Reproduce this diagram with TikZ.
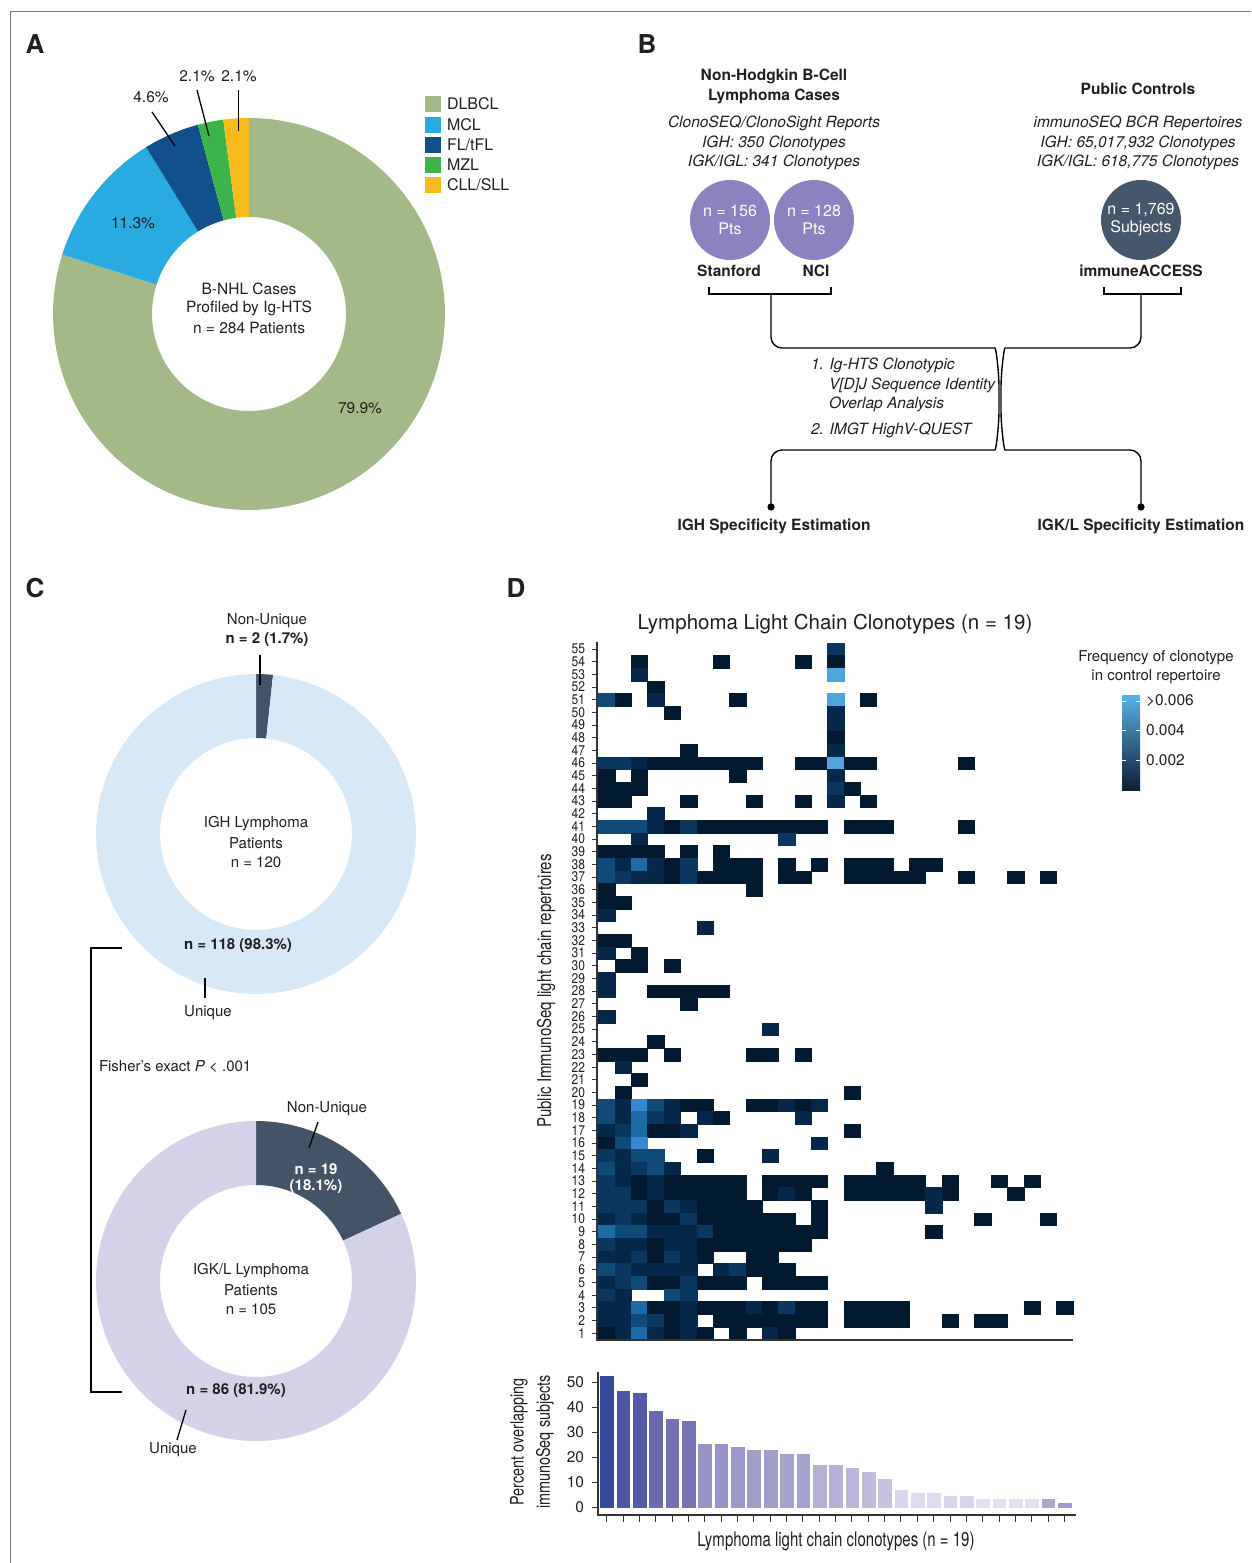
\documentclass[tikz,border=0pt]{standalone}
\usepackage{fontspec}
\setmainfont{TeX Gyre Heros}
\usepackage{graphicx}
\definecolor{cDLBCL}{HTML}{A3B987}
\definecolor{cMCL}{HTML}{29AAE1}
\definecolor{cFL}{HTML}{11508A}
\definecolor{cMZL}{HTML}{3BB54A}
\definecolor{cCLL}{HTML}{F6BC1B}
\definecolor{cIGH}{HTML}{D7E9F7}
\definecolor{cIGK}{HTML}{D4D2E8}
\definecolor{cSlate}{HTML}{425466}
\definecolor{cPurp}{HTML}{8B83BF}
\definecolor{cCtrl}{HTML}{45586B}
\definecolor{hm0}{HTML}{021A30}
\definecolor{hm1}{HTML}{05274A}
\definecolor{hm2}{HTML}{0A3660}
\definecolor{hm3}{HTML}{0F4A78}
\definecolor{hm4}{HTML}{1D6AA6}
\definecolor{hm5}{HTML}{3689CF}
\definecolor{hm6}{HTML}{4FA6DF}
\definecolor{cbTop}{HTML}{5AB0E6}
\definecolor{cbBot}{HTML}{0A1F35}
\definecolor{axisgray}{HTML}{333333}
\definecolor{framegray}{HTML}{7A7A7A}
\definecolor{txt}{HTML}{231F20}
\newcommand{\myfs}[1]{\fontsize{#1}{#1}\selectfont}
\newcommand{\condtxt}[1]{\scalebox{0.78}[1]{#1}}
\newcommand{\donutseg}[7]{%
  \fill[#7] plot[domain=#5:#6, samples=90] ({#1+#4*cos(\x)},{#2+#4*sin(\x)})
    -- plot[domain=#6:#5, samples=90] ({#1+#3*cos(\x)},{#2+#3*sin(\x)}) -- cycle;}
\begin{document}
\begin{tikzpicture}[x=1pt,y=-1pt,
  every node/.style={inner sep=0pt, outer sep=0pt, text=txt},
  lbl/.style={font=\myfs{15.5}},
  blbl/.style={font=\myfs{15.5}\bfseries},
  ilbl/.style={font=\myfs{15.5}\itshape},
  panel/.style={font=\myfs{26}\bfseries},
  leader/.style={draw=black, line width=1.3pt},
  axisline/.style={draw=axisgray, line width=1.4pt},
  tick/.style={draw=axisgray, line width=1pt}]
\useasboundingbox (0,0) rectangle (1251,1563);
\fill[white] (0,0) rectangle (1251,1563);
% frame
\draw[framegray, line width=1pt] (10,1563) -- (10,12) -- (1251,12);

% ---------------- Panel A ----------------
\node[panel] (pA) at (35,44) {A};
\donutseg{249}{314}{97}{196}{-90}{197.64}{cDLBCL}
\donutseg{249}{314}{97}{196}{197.64}{238.32}{cMCL}
\donutseg{249}{314}{97}{196}{238.32}{254.88}{cFL}
\donutseg{249}{314}{97}{196}{254.88}{262.44}{cMZL}
\donutseg{249}{314}{97}{196}{262.44}{270}{cCLL}
\node[lbl] (aC1) at (249,289) {B-NHL Cases};
\node[lbl] (aC2) at (249,308) {Profiled by Ig-HTS};
\node[lbl] (aC3) at (249,328) {n = 284 Patients};
\node[lbl] (aP1) at (360,408) {79.9\%};
\node[lbl] (aP2) at (133,223) {11.3\%};
\node[lbl] (aP3) at (151,97) {4.6\%};
\node[lbl] (aP4) at (197,76) {2.1\%};
\node[lbl] (aP5) at (239,76) {2.1\%};
\draw[leader] (152,112) -- (175,146);
\draw[leader] (197,90) -- (209,136);
\draw[leader] (238.5,90) -- (238.5,131);
% legend
\foreach \ly/\lc in {104/cDLBCL,125/cMCL,145/cFL,165/cMZL,185/cCLL}{
  \fill[\lc] (425,{\ly-8}) rectangle (441,{\ly+8});
}
\node[lbl, anchor=west, font=\myfs{16}] (lg1) at (447,104) {DLBCL};
\node[lbl, anchor=west, font=\myfs{16}] (lg2) at (447,125) {MCL};
\node[lbl, anchor=west, font=\myfs{16}] (lg3) at (447,145) {FL/tFL};
\node[lbl, anchor=west, font=\myfs{16}] (lg4) at (447,165) {MZL};
\node[lbl, anchor=west, font=\myfs{16}] (lg5) at (447,185) {CLL/SLL};

% ---------------- Panel B ----------------
\node[panel] (pB) at (647,44) {B};
\node[blbl] (bH1) at (774,76) {Non-Hodgkin B-Cell};
\node[blbl] (bH2) at (774,96) {Lymphoma Cases};
\node[blbl] (bH3) at (1138,89) {Public Controls};
\node[ilbl] (bI1) at (774,123) {ClonoSEQ/ClonoSight Reports};
\node[ilbl] (bI2) at (774,143) {IGH: 350 Clonotypes};
\node[ilbl] (bI3) at (774,162) {IGK/IGL: 341 Clonotypes};
\node[ilbl] (bI4) at (1138,123) {immunoSEQ BCR Repertoires};
\node[ilbl] (bI5) at (1138,143) {IGH: 65,017,932 Clonotypes};
\node[ilbl] (bI6) at (1138,162) {IGK/IGL: 618,775 Clonotypes};
\node[circle, fill=cPurp, minimum size=80pt, align=center, text=white, font=\myfs{16}] (cSt) at (730,220) {n = 156\\[2pt]Pts};
\node[circle, fill=cPurp, minimum size=80pt, align=center, text=white, font=\myfs{16}] (cNCI) at (814,220) {n = 128\\[2pt]Pts};
\node[circle, fill=cCtrl, minimum size=80pt, align=center, text=white, font=\myfs{16}] (cCt) at (1141,220) {n = 1,769\\[2pt]Subjects};
\node[blbl] (bSt) at (729,271) {Stanford};
\node[blbl] (bNCI) at (816,271) {NCI};
\node[blbl] (bIA) at (1141,271) {immuneACCESS};
\coordinate (lbS) at (771,294);
\coordinate (rbS) at (1141,294);
\draw[line width=1.2pt] (709,287) -- (709,294) -- (831,294) -- (831,287);
\draw[line width=1.2pt] (1104,287) -- (1104,294) -- (1181,294) -- (1181,287);
\coordinate (dotL) at (771,507);
\coordinate (dotR) at (1141,507);
\draw[line width=1.4pt, rounded corners=11pt] (lbS) -- (771,348) -- (984,348)
  .. controls (996,348) and (999,372) .. (999,399)
  .. controls (999,426) and (996,450) .. (984,450) -- (771,450) -- (dotL);
\draw[line width=1.4pt, rounded corners=11pt] (rbS) -- (1141,348) -- (1016,348)
  .. controls (1004,348) and (1001,372) .. (1001,399)
  .. controls (1001,426) and (1004,450) .. (1016,450) -- (1141,450) -- (dotR);
\fill (dotL) circle (3.6pt);
\fill (dotR) circle (3.6pt);
\node[ilbl, anchor=west] (bM1) at (811,365) {1. Ig-HTS Clonotypic};
\node[ilbl, anchor=west] (bM2) at (829,385) {V[D]J Sequence Identity};
\node[ilbl, anchor=west] (bM3) at (829,404) {Overlap Analysis};
\node[ilbl, anchor=west] (bM4) at (811,430) {2. IMGT HighV-QUEST};
\node[blbl] (bO1) at (774,526) {IGH Specificity Estimation};
\node[blbl] (bO2) at (1141,526) {IGK/L Specificity Estimation};

% ---------------- Panel C ----------------
\node[panel] (pC) at (35,588) {C};
\donutseg{256}{834}{96}{160}{-90}{-83.88}{cSlate}
\donutseg{256}{834}{96}{160}{-83.88}{270}{cIGH}
\node[lbl, font=\myfs{15}] (cN1) at (267,621) {Non-Unique};
\node[blbl, font=\myfs{15}\bfseries] (cN2) at (267,640) {n = 2 (1.7\%)};
\draw[leader] (260,655) -- (260,685);
\node[lbl, font=\myfs{15}] (cG1) at (256,824) {IGH Lymphoma};
\node[lbl, font=\myfs{15}] (cG2) at (256,843) {Patients};
\node[lbl, font=\myfs{15}] (cG3) at (256,862) {n = 120};
\node[blbl, font=\myfs{15}\bfseries] (cU1) at (238,946) {n = 118 (98.3\%)};
\draw[leader] (205,978) -- (205,998);
\node[lbl, font=\myfs{15}] (cU2) at (208,1013) {Unique};
\draw[line width=1.3pt] (122,948) -- (91,948) -- (91,1392) -- (122,1392);
\node[lbl, font=\myfs{15}, anchor=west] (cF) at (99,1067) {Fisher's exact \textit{P} < .001};
\donutseg{256}{1281}{96}{160}{-90}{-24.84}{cSlate}
\donutseg{256}{1281}{96}{160}{-24.84}{270}{cIGK}
\node[lbl, font=\myfs{15}] (cK1) at (327,1109) {Non-Unique};
\draw[leader] (318,1122) -- (309,1148);
\node[blbl, font=\myfs{15}\bfseries, text=white] (cK2) at (316,1169) {n = 19};
\node[blbl, font=\myfs{15}\bfseries, text=white] (cK3) at (316,1187) {(18.1\%)};
\node[lbl, font=\myfs{15}] (cK4) at (251,1271) {IGK/L Lymphoma};
\node[lbl, font=\myfs{15}] (cK5) at (251,1290) {Patients};
\node[lbl, font=\myfs{15}] (cK6) at (251,1309) {n = 105};
\node[blbl, font=\myfs{15}\bfseries] (cK7) at (236,1391) {n = 86 (81.9\%)};
\draw[leader] (186,1410) -- (177,1440);
\node[lbl, font=\myfs{15}] (cK8) at (173,1450) {Unique};

% ---------------- Panel D ----------------
\node[panel] (pD) at (516,588) {D};
\node[lbl, font=\myfs{20.5}] (dT) at (835,624) {Lymphoma Light Chain Clonotypes (n = 19)};
% heatmap cells: row/startcol/endcol/shade
\foreach \hr/\ha/\hb/\hs in {
55/14/14/2,
54/2/2/0, 54/7/7/0, 54/12/12/0, 54/14/14/0,
53/2/2/1, 53/14/14/6,
52/3/3/0,
51/0/0/3, 51/1/1/0, 51/3/3/1, 51/8/8/0, 51/14/14/6, 51/16/16/0,
50/4/4/0, 50/14/14/1,
49/14/14/1,
48/14/14/0,
47/5/5/0, 47/14/14/1,
46/0/1/2, 46/2/2/1, 46/3/9/0, 46/12/13/0, 46/14/14/6, 46/15/16/0, 46/22/22/0,
45/0/0/0, 45/2/2/0, 45/8/8/0, 45/14/14/1,
44/0/2/0, 44/14/14/2, 44/15/15/0,
43/0/1/0, 43/5/5/0, 43/9/9/0, 43/12/12/0, 43/14/14/1, 43/16/16/0,
42/3/3/1,
41/0/2/3, 41/3/3/1, 41/4/4/0, 41/5/5/2, 41/6/13/0, 41/15/17/0, 41/22/22/0,
40/2/2/1, 40/11/11/2,
39/0/3/0, 39/5/5/0, 39/7/7/0,
38/0/0/3, 38/1/1/1, 38/2/2/4, 38/3/3/1, 38/4/4/0, 38/5/5/2, 38/7/9/0, 38/11/11/0, 38/13/13/0, 38/15/17/0, 38/19/20/0,
37/0/0/3, 37/1/1/2, 37/2/3/1, 37/4/4/0, 37/5/5/2, 37/6/9/0, 37/11/12/0, 37/15/19/0, 37/22/22/0, 37/25/25/0, 37/27/27/0,
36/0/0/0, 36/9/9/0,
35/0/1/0,
34/0/0/1,
33/6/6/1,
32/0/1/0,
31/0/0/1, 31/2/2/0,
30/1/2/0, 30/4/4/0,
29/0/0/1,
28/0/0/1, 28/3/7/0,
27/5/5/0,
26/0/0/1,
25/10/10/1,
24/3/3/0,
23/0/2/0, 23/4/4/0, 23/9/10/0, 23/12/12/0,
22/1/1/1,
21/2/2/0,
20/1/1/0, 20/15/15/0,
19/0/0/3, 19/1/1/1, 19/2/2/5, 19/3/3/3, 19/4/4/1, 19/5/6/0, 19/9/10/0, 19/11/11/1, 19/12/12/0, 19/13/13/1,
18/0/0/3, 18/1/1/1, 18/2/2/4, 18/3/3/2, 18/4/4/1, 18/6/6/1, 18/7/7/0, 18/12/12/1,
17/0/0/1, 17/1/1/2, 17/2/2/4, 17/3/4/0, 17/5/5/1, 17/15/15/0,
16/0/0/0, 16/1/1/3, 16/2/2/5, 16/13/13/1,
15/0/0/2, 15/1/1/1, 15/2/3/3, 15/6/6/0, 15/10/10/1,
14/0/0/3, 14/1/1/1, 14/2/2/2, 14/3/3/3, 14/4/4/1, 14/17/17/0,
13/0/0/2, 13/1/1/1, 13/2/2/0, 13/3/3/1, 13/4/8/0, 13/10/13/0, 13/15/19/0, 13/21/21/0, 13/24/24/0, 13/26/26/0,
12/0/1/2, 12/2/2/0, 12/3/3/1, 12/4/8/0, 12/10/10/0, 12/11/11/1, 12/12/12/0, 12/15/19/0, 12/20/20/1, 12/21/21/0, 12/25/25/0,
11/0/2/2, 11/3/3/0, 11/4/4/2, 11/5/5/1, 11/6/9/0, 11/13/13/0, 11/20/20/1,
10/0/0/1, 10/1/1/2, 10/2/2/1, 10/3/4/0, 10/5/5/2, 10/6/11/0, 10/13/13/0, 10/23/23/0, 10/27/27/0,
9/0/0/4, 9/1/2/3, 9/3/5/1, 9/6/6/2, 9/7/13/0, 9/20/20/0,
8/0/0/2, 8/1/2/1, 8/3/3/0, 8/4/5/1, 8/6/12/0,
7/0/1/1, 7/2/2/2, 7/3/3/0, 7/4/4/2, 7/5/5/1, 7/6/6/0, 7/9/10/0,
6/0/0/3, 6/1/1/2, 6/2/5/1, 6/7/7/1, 6/8/8/2, 6/9/11/0,
5/0/0/1, 5/1/1/2, 5/2/2/3, 5/3/4/0, 5/5/5/2, 5/6/8/0, 5/10/13/0,
4/0/0/2, 4/1/1/1, 4/4/4/3, 4/5/5/2,
3/0/1/1, 3/2/2/4, 3/3/4/0, 3/5/5/1, 3/6/8/0, 3/9/9/1, 3/10/10/0, 3/11/11/2, 3/12/13/0, 3/15/18/0, 3/26/26/0, 3/28/28/0,
2/0/1/1, 2/2/2/3, 2/3/3/2, 2/4/4/0, 2/5/5/1, 2/7/13/0, 2/15/18/0, 2/21/21/0, 2/23/24/0,
1/0/0/0, 1/1/1/1, 1/2/2/4, 1/3/3/1, 1/4/4/0, 1/5/5/1, 1/6/6/0, 1/8/8/0, 1/10/10/1, 1/11/11/0}{
  \fill[fill=hm\hs, draw=hm\hs, line width=0.2pt] ({598.5+16.35*\ha},{642.7+(55-\hr)*12.667}) rectangle ({598.5+16.35*(\hb+1)},{642.7+(56-\hr)*12.667});
}
% heatmap axes
\foreach \r in {1,...,55}{
  \draw[tick] (592,{649.03+(55-\r)*12.667}) -- (597,{649.03+(55-\r)*12.667});
  \node[anchor=east, font=\myfs{14}] (yl\r) at (585,{649.03+(55-\r)*12.667}) {\scalebox{0.86}[1]{\r}};
}
\draw[axisline] (597,642) -- (597,1340);
\draw[axisline, line width=2pt] (596.3,1340) -- (1073,1340);
\node[rotate=90, font=\myfs{19}] (dYL) at (546,991) {\scalebox{0.79}[1]{Public ImmunoSeq light chain repertoires}};
% colour bar
\node[lbl, font=\myfs{15}] (cbT1) at (1156,658) {Frequency of clonotype};
\node[lbl, font=\myfs{15}] (cbT2) at (1156,677) {in control repertoire};
\shade[top color=cbTop, bottom color=cbBot] (1122,695) rectangle (1140,790);
\foreach \cy in {701,730,760}{
  \draw[white, line width=1pt] (1122,\cy) -- (1126,\cy);
  \draw[white, line width=1pt] (1136,\cy) -- (1140,\cy);
}
\node[lbl, anchor=west] (cbL1) at (1146,701) {>0.006};
\node[lbl, anchor=west] (cbL2) at (1146,730) {0.004};
\node[lbl, anchor=west] (cbL3) at (1146,760) {0.002};

% bar chart
\foreach \bi/\bv/\bc in {0/52.3/3949A0,1/46.5/4D55A7,2/45.5/5459A9,3/38.3/6B69B0,4/35.3/7471B4,5/34.3/7774B5,
  6/25.3/9994C7,7/25.3/9994C7,8/24.1/9D98C9,9/22.7/A29ECC,10/22.7/A29ECC,11/21.3/A7A3CF,12/21.3/A7A3CF,
  13/16.9/B5B1D6,14/16.9/B5B1D6,15/15.7/B9B6D9,16/14.1/C0BDDC,17/11.3/C7C4E0,18/6.9/D9D7EB,19/5.7/DDDBEE,
  20/5.7/DDDBEE,21/4.3/D8D6EA,22/4.3/D8D6EA,23/3.1/E2E1F0,24/3.1/E2E1F0,25/3.1/E2E1F0,26/3.1/E2E1F0,
  27/3.1/ABA7D3,28/1.5/A09CCF}{
  \definecolor{barc}{HTML}{\bc}
  \fill[barc] ({600.3+16.35*\bi},1508) rectangle ({614+16.35*\bi},{1507-2.5*\bv});
  \draw[tick] ({598.5+16.35*(\bi+0.5)},1515) -- ({598.5+16.35*(\bi+0.5)},1522);
}
\foreach \tv in {0,10,20,30,40,50}{
  \draw[tick] (592,{1507-2.5*\tv}) -- (598,{1507-2.5*\tv});
  \node[anchor=east, font=\myfs{15.5}] (bt\tv) at (584,{1507-2.5*\tv}) {\tv};
}
\draw[axisline] (598,1372) -- (598,1515);
\draw[axisline, line width=2pt] (597.3,1515) -- (1076,1515);
\node[rotate=90, font=\myfs{18.5}] (bYL1) at (519,1442) {\condtxt{Percent overlapping}};
\node[rotate=90, font=\myfs{18.5}] (bYL2) at (545,1442) {\condtxt{immunoSeq subjects}};
\node[font=\myfs{20}] (bXL) at (836,1541) {\scalebox{0.75}[1]{Lymphoma light chain clonotypes (n = 19)}};
\end{tikzpicture}
\end{document}
